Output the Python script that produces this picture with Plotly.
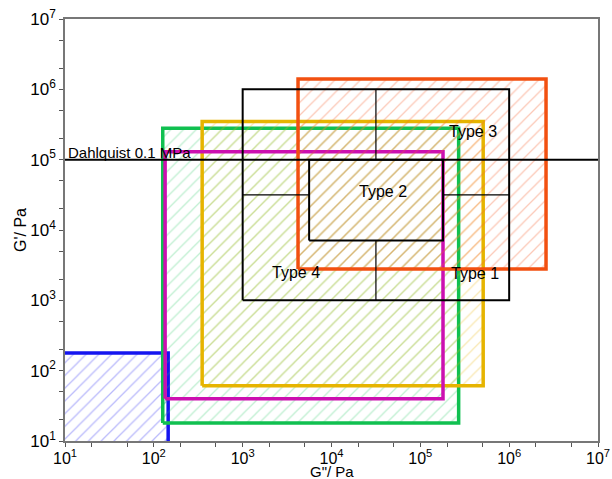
import math
import plotly.graph_objects as go

# Rectangles (G'' range, G' range) in Pa
box_names = ["blue", "green", "yellow", "magenta", "orange"]
box_x0 = [9, 126, 350, 134, 4200]
box_x1 = [145, 2.7e5, 5.1e5, 1.8e5, 2.6e6]
box_y0 = [9, 18, 61, 40, 2800]
box_y1 = [178, 2.8e5, 3.5e5, 1.3e5, 1.4e6]
box_line = ["#1414f0", "#10c050", "#e6b400", "#cc10b0", "#f25010"]
box_hatch = ["rgba(70,70,245,0.75)", "rgba(40,200,100,0.6)", "rgba(235,185,20,0.65)", None, "rgba(245,100,50,0.7)"]

# Black classification boxes
outer_x = [1e3, 1e6]
outer_y = [1e3, 1e6]
inner_x = [5600, 1.8e5]
inner_y = [7100, 1e5]
mid = 10 ** 4.5

dahlquist_y = 1e5
axis_min, axis_max = 10, 1e7

labels = ["Type 3", "Type 2", "Type 4", "Type 1"]
label_x = [3.9e5, 3.8e4, 4e3, 4.1e5]
label_y = [2.5e5, 3.5e4, 2.5e3, 2.4e3]

decades = [1, 2, 3, 4, 5, 6, 7]
ticktext = ["10<sup>%d</sup>" % d for d in decades]

fig = go.Figure()

for i in range(len(box_names)):
    xs = [box_x0[i], box_x1[i], box_x1[i], box_x0[i], box_x0[i]]
    ys = [box_y0[i], box_y0[i], box_y1[i], box_y1[i], box_y0[i]]
    kw = {}
    if box_hatch[i]:
        kw = dict(fill="toself", fillcolor="rgba(0,0,0,0)",
                  fillpattern=dict(shape="/", fgcolor=box_hatch[i], bgcolor="rgba(0,0,0,0)",
                                   size=9, solidity=0.14, fillmode="overlay"))
    fig.add_trace(go.Scatter(x=xs, y=ys, mode="lines",
                             line=dict(color=box_line[i], width=3.5),
                             hoverinfo="skip", showlegend=False, **kw))

def seg(xs, ys, w):
    fig.add_trace(go.Scatter(x=xs, y=ys, mode="lines", line=dict(color="black", width=w),
                             hoverinfo="skip", showlegend=False))

# Outer black box
seg([outer_x[0], outer_x[1], outer_x[1], outer_x[0], outer_x[0]],
    [outer_y[0], outer_y[0], outer_y[1], outer_y[1], outer_y[0]], 2)
# Inner (Type 2) box
seg([inner_x[0], inner_x[1], inner_x[1], inner_x[0], inner_x[0]],
    [inner_y[0], inner_y[0], inner_y[1], inner_y[1], inner_y[0]], 2)
# Internal dividing lines
seg([mid, mid], [inner_y[1], outer_y[1]], 1.2)
seg([mid, mid], [outer_y[0], inner_y[0]], 1.2)
seg([outer_x[0], inner_x[0]], [mid, mid], 1.2)
seg([inner_x[1], outer_x[1]], [mid, mid], 1.2)
# Dahlquist line
seg([axis_min, axis_max], [dahlquist_y, dahlquist_y], 2)

fig.add_annotation(x=math.log10(axis_min), y=math.log10(dahlquist_y), xref="x", yref="y",
                   text="Dahlquist 0.1 MPa", showarrow=False,
                   xanchor="left", yanchor="bottom", xshift=1, yshift=-3,
                   font=dict(size=15, color="black"))
for t, lx, ly in zip(labels, label_x, label_y):
    fig.add_annotation(x=math.log10(lx), y=math.log10(ly), text=t, showarrow=False,
                       font=dict(size=16, color="black"))

# Axis titles
fig.add_annotation(x=0.5, y=0, xref="paper", yref="paper", text='G"/ Pa', showarrow=False,
                   xanchor="center", yanchor="middle", yshift=-30, font=dict(size=15, color="black"))
fig.add_annotation(x=0, y=0.5, xref="paper", yref="paper", text="G'/ Pa", showarrow=False,
                   textangle=-90, xanchor="center", yanchor="middle", xshift=-45,
                   font=dict(size=16, color="black"))

tickvals = [10 ** d for d in decades]

axis_common = dict(type="log", range=[1, 7], tickvals=tickvals, ticktext=ticktext,
                   ticks="outside", ticklen=4, tickcolor="#555", linecolor="#777", linewidth=1.5,
                   showline=True, mirror=True, showgrid=False, zeroline=False, automargin=False,
                   tickfont=dict(size=17, color="black"),
                   minor=dict(ticks="outside", ticklen=4, tickcolor="#555", showgrid=False))

fig.update_xaxes(**axis_common)
fig.update_yaxes(**axis_common)
fig.update_xaxes(tickfont=dict(size=16), ticklen=2)

fig.update_layout(width=612, height=479, margin=dict(l=65, r=14, t=19, b=38),
                  plot_bgcolor="white", paper_bgcolor="white",
                  font=dict(family="Liberation Sans, Arial, sans-serif", color="black"))

fig.write_html("out.html")
